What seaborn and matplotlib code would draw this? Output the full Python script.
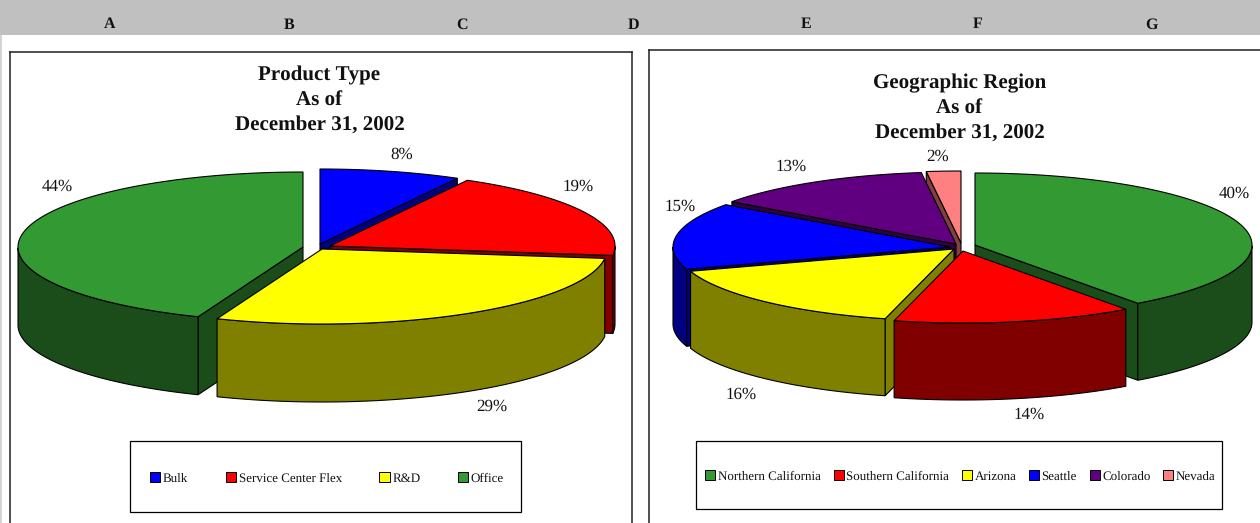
import numpy as np
import matplotlib
matplotlib.use("Agg")
import matplotlib.pyplot as plt
from matplotlib.patches import Rectangle
import seaborn as sns

# Portfolio breakdown at year end, in percent
product_names = ["Bulk", "Service Center Flex", "R&D", "Office"]
product_values = [8, 19, 29, 44]
region_names = ["Northern California", "Southern California", "Arizona",
                "Seattle", "Colorado", "Nevada"]
region_values = [40, 14, 16, 15, 13, 2]
column_letters = ["A", "B", "C", "D", "E", "F", "G"]

# Slice styling
product_colors = ["#0000FF", "#FF0000", "#FFFF00", "#339933"]
product_shades = ["#000080", "#800000", "#808000", "#1A4D1A"]
region_colors = ["#339933", "#FF0000", "#FFFF00", "#0000FF", "#600080", "#FF8080"]
region_shades = ["#1A4D1A", "#800000", "#808000", "#000080", "#300040", "#804040"]

FONT = "Liberation Serif"
W, H = 1260, 523

sns.set_theme(style="white", rc={"font.family": FONT, "text.hinting": "none",
                                 "text.hinting_factor": 1})


def slice_polygons(start, end, cx, cy, rx, ry, depth):
    """Return the top face, the front-facing cut walls and the visible rim of a slice."""
    th = np.radians(np.linspace(start, end, 160))
    xs = cx + rx * np.sin(th)
    ys = cy - ry * np.cos(th)
    top = (np.r_[cx, xs], np.r_[cy, ys])
    walls = []
    # A cut face is seen only when its outward normal points towards the viewer
    if np.sin(th[0]) < -1e-6:
        walls.append(([cx, xs[0], xs[0], cx], [cy, ys[0], ys[0] + depth, cy + depth]))
    if np.sin(th[-1]) > 1e-6:
        walls.append(([cx, xs[-1], xs[-1], cx], [cy, ys[-1], ys[-1] + depth, cy + depth]))
    front = np.cos(th) <= 0
    rim = None
    if front.any():
        fx, fy = xs[front], ys[front]
        rim = (np.r_[fx, fx[::-1]], np.r_[fy, fy[::-1] + depth])
    return top, walls, rim


def draw_pie(ax, values, colors, shades, centers, order, radii, depth):
    """Draw an exploded 3-D pie clockwise from twelve o'clock, back slices first."""
    edges = np.r_[0, np.cumsum(values)] / sum(values) * 360
    rx, ry = radii
    style = dict(edgecolor="black", linewidth=0.8, joinstyle="miter")
    for i in order:
        cx, cy = centers[i]
        top, walls, rim = slice_polygons(edges[i], edges[i + 1], cx, cy, rx, ry, depth)
        for wall in walls:
            ax.fill(*wall, facecolor=shades[i], **style)
        if rim is not None:
            ax.fill(*rim, facecolor=shades[i], **style)
        ax.fill(*top, facecolor=colors[i], **style)


def make_panel(x0, x1, y0):
    """Create a framed panel whose data units are figure pixels."""
    bottom = H + 6
    ax = fig.add_axes([x0 / W, 1 - bottom / H, (x1 - x0) / W, (bottom - y0) / H])
    ax.set_xlim(x0, x1)
    ax.set_ylim(bottom, y0)
    ax.set_xticks([])
    ax.set_yticks([])
    for spine in ax.spines.values():
        spine.set_color("#202020")
        spine.set_linewidth(1.1)
    return ax


def add_legend(ax, names, colors, box, columnspacing, shift):
    x, y, w, h = box
    ax.add_patch(Rectangle((x, y), w, h, facecolor="white", edgecolor="black", linewidth=0.9))
    handles = [Rectangle((0, 0), 1, 1, facecolor=c, edgecolor="black", linewidth=0.7) for c in colors]
    ax.legend(handles, names, loc="center",
              bbox_to_anchor=(x + w / 2 + shift[0], y + h / 2 + shift[1]),
              bbox_transform=ax.transData, ncol=len(names), frameon=False,
              prop={"family": FONT, "size": 9.35}, handlelength=0.78, handleheight=0.78,
              handletextpad=0.2, columnspacing=columnspacing, borderpad=0, borderaxespad=0,
              labelcolor="#111111")


def add_title(ax, x, lines, baselines):
    for line, y in zip(lines, baselines):
        ax.text(x, y, line, ha="center", va="baseline", fontsize=15.2,
                fontweight="bold", color="#111111")


fig = plt.figure(figsize=(W / 100, H / 100), dpi=100, facecolor="white")

# Spreadsheet column header strip
fig.add_artist(Rectangle((0, 1 - 35 / H), 1, 35 / H, transform=fig.transFigure,
                         facecolor="#C0C0C0", edgecolor="none"))
fig.add_artist(Rectangle((0, 0), 1.5 / W, 1 - 35 / H, transform=fig.transFigure,
                         facecolor="#D4D4D4", edgecolor="none"))
for letter, px in zip(column_letters, [110, 289, 462, 633, 806, 978, 1151]):
    fig.text(px / W, 1 - 28.5 / H, letter, ha="center", va="baseline", fontsize=11.5,
             fontweight="bold", family=FONT, color="#111111")

# Product type panel
left = make_panel(10, 632, 52)
draw_pie(left, product_values, product_colors, product_shades,
         centers=[(320, 244), (330, 246), (322, 249), (303, 247)],
         order=[3, 0, 1, 2], radii=(285, 75), depth=78)
add_title(left, 319.5, ["Product Type", "As of", "December 31, 2002"], [80, 105, 130])
for v, (x, y) in zip(product_values, [(402, 155), (578, 187), (492, 407), (57, 187)]):
    left.text(x, y, f"{v}%", ha="center", va="center", fontsize=12, color="#111111")
add_legend(left, product_names, product_colors, (129.5, 441.5, 391, 71), 2.9, (2, 1.5))

# Geographic region panel
right = make_panel(649, 1264, 50)
draw_pie(right, region_values, region_colors, region_shades,
         centers=[(975, 245), (963, 251), (954, 249), (950, 247), (956, 244), (961, 243)],
         order=[5, 4, 3, 0, 2, 1], radii=(277, 72), depth=77)
add_title(right, 959.5, ["Geographic Region", "As of", "December 31, 2002"], [88.5, 113, 138])
for v, (x, y) in zip(region_values, [(1234, 194), (1029, 415), (741, 395), (680, 207), (791, 167), (938, 157)]):
    right.text(x, y, f"{v}%", ha="center", va="center", fontsize=12, color="#111111")
add_legend(right, region_names, region_colors, (696.5, 441, 525, 68), 0.97, (1.5, 1.5))

fig.savefig("out.png", dpi=100)
